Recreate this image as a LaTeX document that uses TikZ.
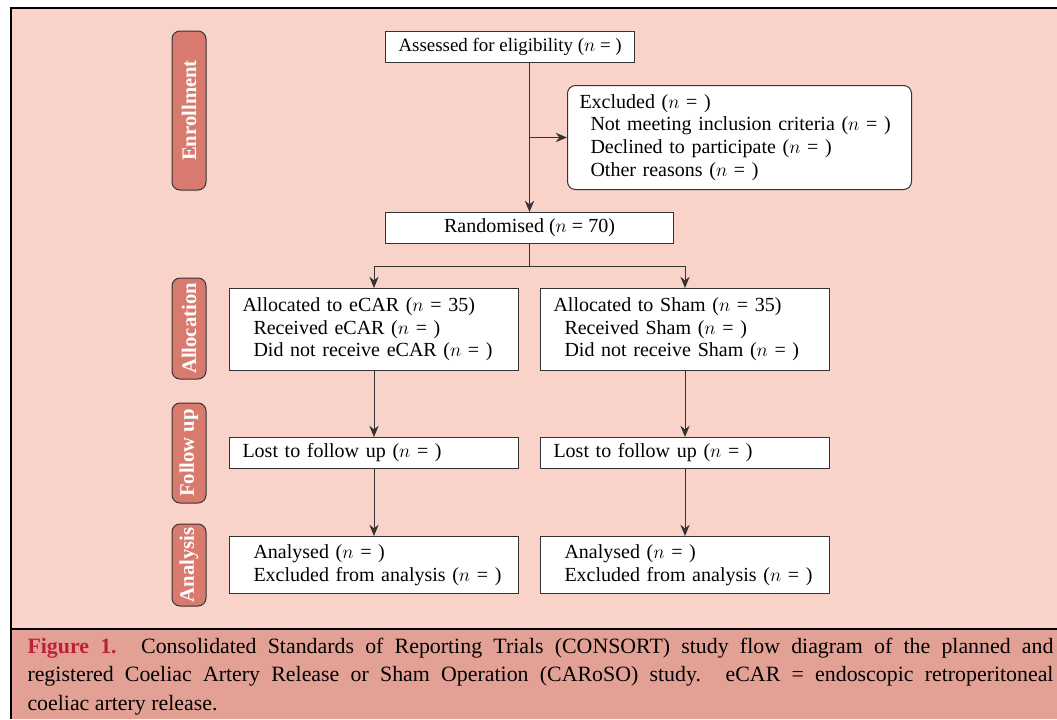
\documentclass[tikz,border=0pt]{standalone}
\usepackage{fontspec}
\setmainfont{Liberation Serif}
\usetikzlibrary{arrows.meta}

\definecolor{bgpink}{RGB}{249,211,202}
\definecolor{capbg}{RGB}{227,161,149}
\definecolor{tabfill}{RGB}{217,122,110}
\definecolor{figred}{RGB}{190,32,58}
\definecolor{boxline}{RGB}{51,51,51}

\newcommand{\boxfont}{\fontsize{15}{17}\selectfont}
\newcommand{\ind}{\hspace*{8.25pt}}

\tikzset{every picture/.style={line width=0.75pt}}
\tikzset{
  stagetab/.style={draw=boxline,fill=tabfill,rounded corners=6pt,rotate=90,
    minimum height=25.5pt,inner sep=0pt,text=white,
    font=\fontsize{15.5}{17}\selectfont\bfseries},
  flowbox/.style={draw=boxline,fill=white,anchor=north west,align=left,
    inner xsep=9.75pt,inner ysep=2pt,font=\boxfont},
  arr/.style={draw=boxline,-{Stealth[length=8.5pt,width=7pt]}}
}

\begin{document}
\begin{tikzpicture}[x=0.75pt,y=0.75pt,yscale=-1,xscale=1]
\useasboundingbox (0,0) rectangle (1057,719);

%Shape: background and frame
\fill[bgpink] (11,8) rectangle (1057,629);
\fill[capbg] (11,629) rectangle (1057,719);
\draw[line width=1.5pt] (11,629) -- (1057,629);
\draw[line width=1.5pt] (11,719) -- (11,8) -- (1057,8);

%Shape: stage tabs
\node[stagetab,minimum width=119.25pt] (tabenrol) at (189,110.5) {Enrollment};
\node[stagetab,minimum width=75.75pt] (taballoc) at (189,328.5) {Allocation};
\node[stagetab,minimum width=75pt] (tabfollow) at (189,453) {Follow up};
\node[stagetab,minimum width=61.5pt] (tabanaly) at (189,565) {Analysis};

% Text Node
\node[flowbox,align=center,minimum width=185.25pt,minimum height=23.25pt,
  font=\fontsize{14.2}{17}\selectfont] (assess) at (385,31) {Assessed for eligibility ($n$ = )};
% Text Node
\node[flowbox,rounded corners=6pt,text width=240pt,minimum height=78pt,inner xsep=9pt] (excl) at (567,85)
  {Excluded ($n$ = )\\\ind Not meeting inclusion criteria ($n$ = )\\\ind Declined to participate ($n$ = )\\\ind Other reasons ($n$ = )};
% Text Node
\node[flowbox,align=center,minimum width=216pt,minimum height=23.25pt] (rand) at (385,212) {Randomised ($n$ = 70)};

% Text Node
\node[flowbox,text width=197.25pt,minimum height=61.5pt] (ecar) at (229,288)
  {Allocated to eCAR ($n$ = 35)\\\ind Received eCAR ($n$ = )\\\ind Did not receive eCAR ($n$ = )};
% Text Node
\node[flowbox,text width=197.25pt,minimum height=61.5pt] (sham) at (540,288)
  {Allocated to Sham ($n$ = 35)\\\ind Received Sham ($n$ = )\\\ind Did not receive Sham ($n$ = )};
% Text Node
\node[flowbox,text width=197.25pt,minimum height=23.25pt] (lostecar) at (229,437) {Lost to follow up ($n$ = )};
% Text Node
\node[flowbox,text width=197.25pt,minimum height=23.25pt] (lostsham) at (540,437) {Lost to follow up ($n$ = )};
% Text Node
\node[flowbox,text width=197.25pt,minimum height=42.75pt] (anaecar) at (229,536)
  {\ind Analysed ($n$ = )\\\ind Excluded from analysis ($n$ = )};
% Text Node
\node[flowbox,text width=197.25pt,minimum height=42.75pt] (anasham) at (540,536)
  {\ind Analysed ($n$ = )\\\ind Excluded from analysis ($n$ = )};

%Straight Lines
\draw[arr] (rand.north |- assess.south) -- (rand.north);
\draw[arr] (rand.north |- excl.west) -- (excl.west);
\coordinate (split) at ([yshift=16.5pt]rand.south);
\draw[boxline] (rand.south) -- (split);
\draw[arr] (split) -| (ecar.north);
\draw[arr] (split) -| (sham.north);
\draw[arr] (ecar.south) -- (lostecar.north);
\draw[arr] (sham.south) -- (lostsham.north);
\draw[arr] (lostecar.south) -- (anaecar.north);
\draw[arr] (lostsham.south) -- (anasham.north);

% Text Node
\node[anchor=base west,text width=769.5pt,align=justify,inner sep=0pt,
  font=\fontsize{16.4}{21.5}\selectfont] (caption) at (27,653)
  {\textcolor{figred}{\textbf{Figure 1.}} Consolidated Standards of Reporting Trials (CONSORT) study flow diagram of the planned and\linebreak
   registered Coeliac Artery Release or Sham Operation (CARoSO) study. eCAR = endoscopic retroperitoneal\linebreak
   coeliac artery release.};

\end{tikzpicture}
\end{document}
